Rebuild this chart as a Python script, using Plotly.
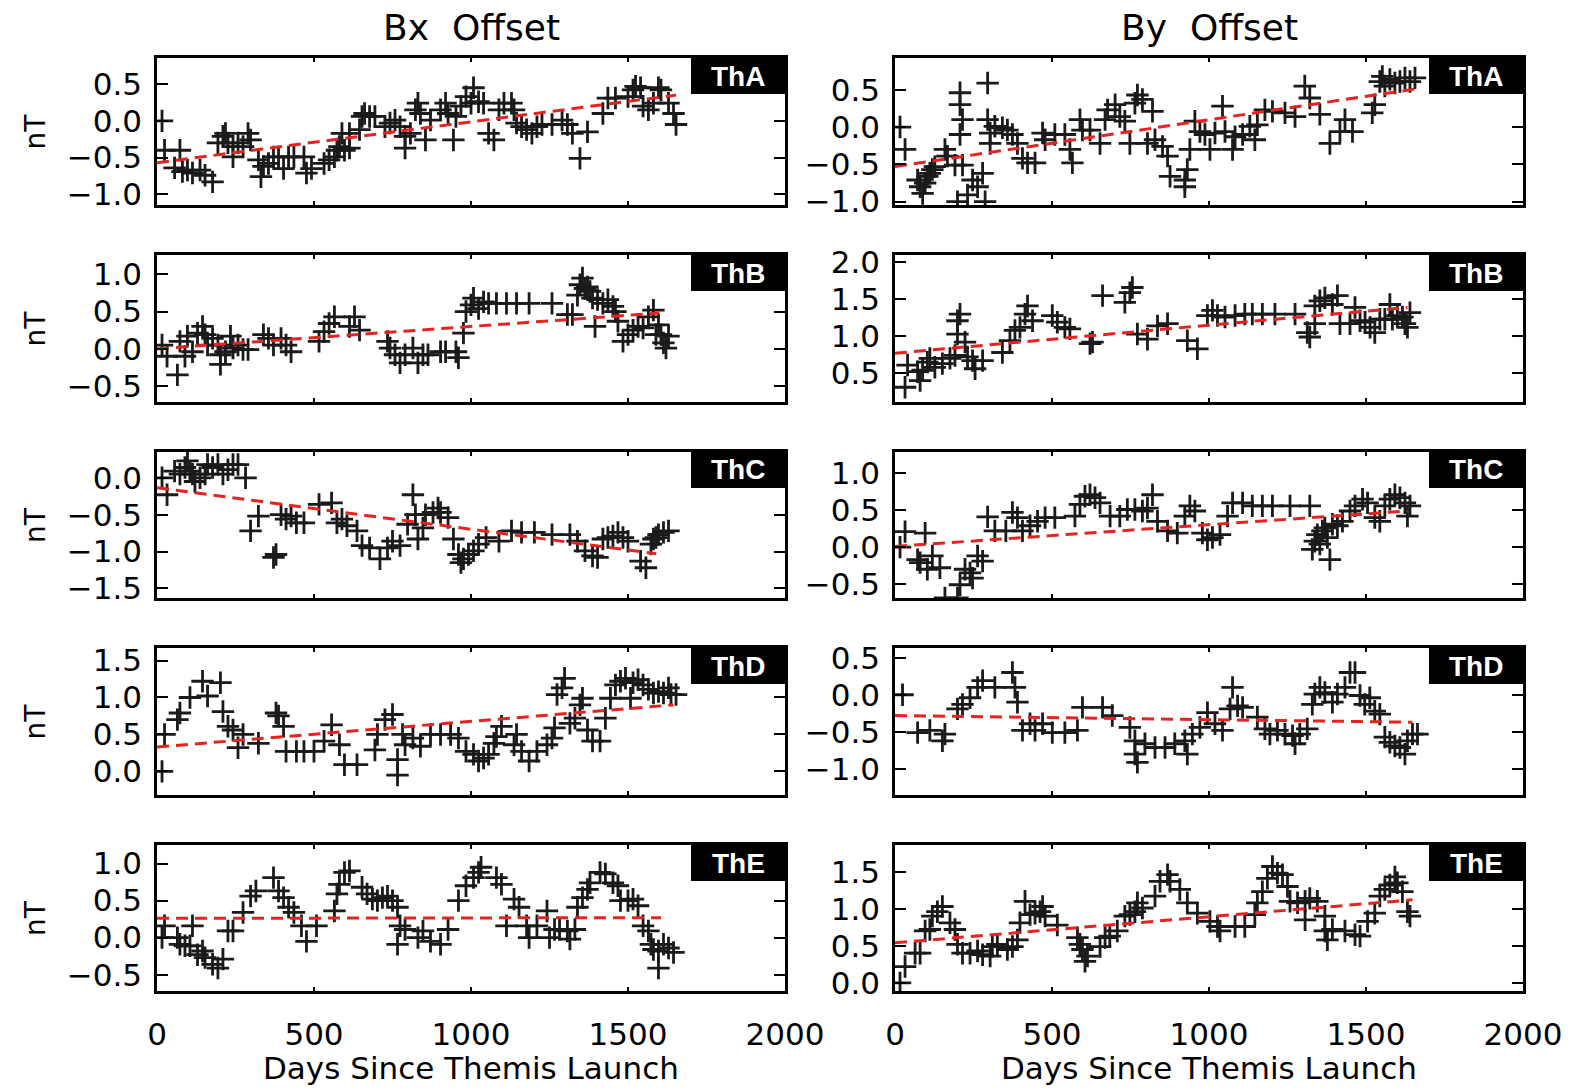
import plotly.graph_objects as go

# ---------------- data (days since launch, offset in nT) ----------------
days_bx_tha = [16,24,73,56,81,97,113,137,153,177,194,210,218,226,242,258,274,290,298,242,323,331,339,355,371,387,403,419,436,468,476,492,532,548,565,573,581,597,613,589,613,645,653,661,677,694,726,742,758,774,790,790,807,823,831,839,855,871,903,919,927,944,952,968,984,1000,1008,1024,1040,1056,1073,1089,1105,1129,1137,1145,1161,1177,1194,1210,1226,1258,1290,1307,1323,1347,1371,1420,1436,1460,1500,1516,1524,1540,1548,1565,1581,1597,1605,1629,1645,1653]
vals_bx_tha = [0.00,-0.40,-0.40,-0.64,-0.69,-0.67,-0.71,-0.67,-0.74,-0.83,-0.30,-0.21,-0.17,-0.30,-0.35,-0.30,-0.35,-0.17,-0.26,-0.49,-0.53,-0.76,-0.62,-0.58,-0.49,-0.49,-0.65,-0.49,-0.49,-0.49,-0.71,-0.65,-0.58,-0.53,-0.49,-0.40,-0.35,-0.40,-0.37,-0.17,-0.17,-0.12,0.06,0.10,0.06,0.06,-0.08,-0.03,0.01,-0.08,-0.21,-0.37,-0.17,0.15,0.24,0.10,-0.26,0.01,0.15,0.24,0.10,-0.26,0.06,0.20,0.33,0.24,0.45,0.26,0.24,-0.17,-0.26,0.15,0.24,0.24,0.15,-0.03,-0.08,-0.12,-0.17,-0.08,-0.05,-0.05,0.01,-0.05,-0.17,-0.51,-0.15,0.10,0.31,0.31,0.33,0.42,0.47,0.45,0.20,0.15,0.24,0.45,0.42,0.24,0.10,-0.05]

days_by_tha = [16,32,72,80,88,96,103,111,119,127,159,167,191,199,207,207,215,207,215,231,247,263,279,287,295,295,303,303,318,342,358,374,390,406,422,446,470,478,509,541,557,565,589,597,621,653,669,677,701,716,732,748,764,772,788,804,820,828,852,868,876,923,923,931,939,955,971,987,1003,1019,1043,1051,1075,1083,1107,1130,1146,1154,1178,1202,1242,1274,1305,1321,1353,1385,1417,1433,1457,1520,1528,1544,1552,1560,1576,1592,1608,1624,1640,1656]
vals_by_tha = [0.0,-0.30,-0.71,-0.80,-0.89,-0.75,-0.66,-0.62,-0.57,-0.53,-0.30,-0.39,-0.51,-1.0,0.46,0.30,0.10,-0.10,-0.51,-0.91,-0.71,-0.80,-0.62,-1.0,0.59,0.10,-0.08,-0.22,0.01,-0.01,-0.04,-0.10,-0.22,-0.42,-0.48,-0.48,-0.08,-0.17,-0.10,-0.10,-0.30,-0.48,0.10,-0.04,-0.04,-0.22,0.10,0.23,0.30,0.14,0.08,-0.22,0.32,0.43,0.37,-0.22,0.21,-0.17,-0.26,-0.39,-0.66,-0.71,-0.80,-0.57,-0.30,0.08,-0.06,-0.10,-0.30,-0.08,0.28,-0.06,-0.30,-0.13,-0.10,0.01,-0.17,0.03,0.23,0.21,0.19,0.14,0.55,0.39,0.17,-0.22,-0.06,0.10,-0.06,0.19,0.30,0.61,0.68,0.55,0.64,0.59,0.61,0.66,0.61,0.66]

days_bx_thb = [16,32,65,73,89,97,113,129,145,153,161,177,194,202,202,218,234,242,258,274,290,339,355,371,395,411,427,516,532,548,565,613,629,645,734,742,758,774,790,815,831,847,863,903,919,952,960,976,984,1000,1008,1024,1040,1056,1081,1113,1145,1185,1258,1307,1323,1339,1347,1355,1363,1371,1379,1387,1395,1403,1420,1436,1452,1460,1468,1484,1500,1516,1532,1548,1565,1581,1589,1597,1605,1613,1621,1629]
vals_bx_thb = [0.05,-0.10,-0.35,0.10,-0.10,0.17,-0.04,0.21,0.30,0.19,0.05,0.14,0.05,-0.08,-0.21,-0.04,0.17,0.01,0.05,-0.01,-0.01,0.19,0.14,0.05,0.14,0.05,-0.04,0.10,0.23,0.34,0.43,0.30,0.43,0.25,0.10,0.01,-0.08,-0.19,-0.08,0.01,-0.19,-0.08,-0.08,-0.04,-0.04,-0.04,-0.12,0.21,0.50,0.59,0.68,0.54,0.63,0.61,0.61,0.61,0.61,0.61,0.61,0.46,0.46,0.72,0.86,0.95,0.81,0.83,0.77,0.68,0.30,0.66,0.61,0.66,0.57,0.50,0.37,0.10,0.19,0.25,0.30,0.28,0.43,0.52,0.19,0.32,0.19,0.08,0.01,0.17]

days_by_thb = [32,40,72,80,88,103,111,127,151,175,191,199,207,199,223,231,247,255,279,342,366,382,398,414,422,438,501,517,541,557,621,629,661,732,748,756,772,804,836,868,931,963,995,1011,1027,1051,1083,1114,1138,1170,1210,1274,1313,1321,1337,1337,1353,1369,1393,1409,1417,1449,1465,1481,1497,1513,1528,1544,1560,1576,1584,1600,1616,1624,1632,1640]
vals_by_thb = [0.31,0.61,0.52,0.40,0.54,0.65,0.70,0.58,0.63,0.70,0.74,1.21,1.30,1.03,0.92,0.72,0.67,0.56,0.67,0.78,0.94,1.08,1.12,1.30,1.41,1.21,1.28,1.19,1.12,1.10,0.90,0.92,1.55,1.46,1.59,1.66,1.03,0.96,1.14,1.17,0.94,0.83,1.28,1.35,1.28,1.26,1.28,1.30,1.30,1.30,1.30,1.30,1.05,0.99,1.17,1.41,1.48,1.52,1.43,1.55,1.17,1.17,1.39,1.21,1.19,1.12,1.05,1.23,1.23,1.43,1.23,1.28,1.26,1.17,1.12,1.32]

days_bx_thc = [16,32,56,73,89,97,105,113,121,137,153,161,177,194,210,226,242,258,282,298,323,371,379,395,411,427,444,468,516,556,573,589,605,637,653,677,710,734,750,774,798,815,823,831,847,855,879,895,903,927,944,960,968,976,992,1008,1024,1048,1089,1129,1161,1202,1258,1315,1339,1363,1387,1403,1420,1436,1452,1468,1484,1500,1540,1557,1573,1581,1589,1597,1613,1629]
vals_bx_thc = [0.0,-0.23,0.09,0.05,0.14,0.23,0.09,0.05,-0.05,0.0,0.05,0.18,0.14,0.18,0.05,0.11,0.18,0.18,0.0,-0.72,-0.52,-1.08,-1.04,-0.50,-0.56,-0.52,-0.61,-0.61,-0.36,-0.34,-0.61,-0.56,-0.65,-0.72,-0.92,-0.95,-1.10,-0.95,-0.86,-0.92,-0.63,-0.23,-0.50,-0.83,-0.68,-0.50,-0.47,-0.41,-0.47,-0.54,-0.83,-1.04,-1.15,-1.10,-1.04,-0.99,-0.90,-0.81,-0.86,-0.72,-0.74,-0.74,-0.77,-0.77,-0.86,-0.99,-1.06,-1.08,-0.83,-0.81,-0.79,-0.74,-0.81,-0.86,-1.13,-1.22,-0.90,-0.83,-0.81,-0.77,-0.74,-0.72]

days_by_thc = [16,32,72,80,96,103,119,143,159,199,207,223,239,247,263,279,295,318,353,374,390,406,430,454,478,509,573,589,605,621,637,653,685,716,740,764,788,804,820,836,868,899,923,939,955,979,995,1011,1035,1059,1075,1107,1138,1170,1202,1258,1321,1329,1337,1345,1353,1361,1369,1377,1385,1393,1409,1425,1449,1465,1489,1505,1528,1544,1560,1576,1592,1608,1624,1632,1640]
vals_by_thc = [0.0,0.21,-0.17,-0.21,0.19,-0.30,-0.12,-0.28,-0.69,-0.69,-0.51,-0.30,-0.35,-0.42,-0.12,-0.19,0.41,0.22,0.22,0.47,0.40,0.22,0.29,0.35,0.40,0.40,0.42,0.58,0.69,0.71,0.67,0.60,0.42,0.42,0.51,0.51,0.49,0.53,0.71,0.35,0.22,0.19,0.42,0.56,0.49,0.19,0.10,0.13,0.17,0.42,0.60,0.60,0.56,0.56,0.56,0.56,0.56,-0.03,0.08,0.17,0.04,0.22,0.26,0.13,-0.17,0.31,0.29,0.35,0.49,0.56,0.65,0.60,0.40,0.35,0.56,0.65,0.71,0.67,0.60,0.42,0.56]

days_bx_thd = [16,24,65,73,105,145,161,202,210,226,242,258,274,323,379,387,403,411,444,468,500,532,556,581,597,637,694,702,726,750,766,766,782,790,815,839,871,903,935,960,984,1008,1024,1040,1056,1073,1081,1097,1137,1145,1161,1185,1210,1242,1258,1266,1274,1290,1298,1315,1331,1347,1355,1371,1387,1411,1428,1444,1460,1476,1492,1508,1516,1532,1548,1565,1581,1597,1613,1629,1637,1653]
vals_bx_thd = [0.0,0.50,0.70,0.79,1.00,1.22,1.02,1.20,0.81,0.61,0.56,0.32,0.50,0.38,0.79,0.75,0.61,0.27,0.27,0.27,0.27,0.41,0.63,0.36,0.09,0.09,0.29,0.50,0.70,0.77,0.16,-0.05,0.50,0.36,0.45,0.34,0.50,0.50,0.50,0.45,0.27,0.23,0.14,0.18,0.23,0.38,0.47,0.61,0.36,0.50,0.27,0.14,0.27,0.36,0.45,0.59,1.04,1.13,1.26,0.65,0.72,0.90,0.99,0.56,0.41,0.41,0.72,0.99,1.17,1.22,1.26,0.99,1.20,1.24,1.17,1.11,1.06,1.08,1.06,1.13,1.04,1.04]

days_by_thd = [24,72,111,151,159,199,215,239,263,279,318,374,382,390,406,430,446,470,501,541,581,597,661,692,748,764,764,772,796,828,860,891,923,931,947,971,995,1019,1043,1067,1075,1091,1107,1154,1178,1194,1218,1242,1266,1274,1289,1313,1329,1337,1353,1369,1393,1409,1433,1449,1465,1481,1496,1512,1528,1544,1560,1576,1592,1608,1624,1632,1648,1664]
vals_by_thd = [0.0,-0.51,-0.48,-0.62,-0.53,-0.19,-0.13,-0.04,0.10,0.19,0.10,0.30,0.10,-0.10,-0.48,-0.39,-0.48,-0.39,-0.51,-0.51,-0.48,-0.17,-0.17,-0.28,-0.44,-0.62,-0.80,-0.91,-0.66,-0.71,-0.71,-0.66,-0.62,-0.80,-0.53,-0.44,-0.24,-0.39,-0.48,-0.19,0.10,-0.15,-0.17,-0.30,-0.46,-0.53,-0.48,-0.53,-0.55,-0.66,-0.53,-0.46,-0.13,0.01,0.10,0.03,-0.10,0.01,0.10,0.30,0.30,-0.01,-0.13,-0.04,-0.22,-0.26,-0.57,-0.64,-0.69,-0.71,-0.80,-0.62,-0.53,-0.53]

days_bx_the = [16,24,65,73,89,105,113,129,145,153,177,194,210,226,242,274,298,315,371,387,403,419,436,460,476,508,565,573,581,597,613,653,669,686,702,718,734,750,766,774,766,790,831,847,871,903,927,960,984,1008,1024,1032,1081,1097,1113,1137,1153,1177,1185,1210,1242,1250,1266,1282,1307,1315,1331,1339,1355,1371,1379,1411,1428,1452,1468,1476,1500,1516,1532,1548,1565,1573,1581,1597,1597,1613,1629,1645]
vals_bx_the = [0.0,0.16,0.0,-0.09,-0.11,-0.11,0.16,-0.23,-0.18,-0.27,-0.36,-0.41,-0.29,0.09,0.09,0.34,0.56,0.63,0.81,0.63,0.54,0.41,0.34,0.16,-0.05,0.16,0.36,0.59,0.72,0.88,0.90,0.68,0.59,0.52,0.50,0.54,0.56,0.50,0.41,0.16,-0.09,0.11,0.0,0.09,-0.05,-0.09,0.11,0.50,0.70,0.81,0.88,0.95,0.81,0.72,0.16,0.52,0.41,0.16,0.0,0.16,0.36,0.0,0.11,0.11,0.09,-0.02,0.11,0.41,0.54,0.65,0.74,0.88,0.86,0.74,0.70,0.50,0.50,0.52,0.43,0.16,0.09,-0.09,-0.16,-0.18,-0.41,-0.09,-0.14,-0.20]

days_by_the = [16,32,64,80,96,111,119,135,151,175,191,199,215,239,263,279,303,310,326,358,374,390,398,414,430,446,462,470,478,517,581,589,597,605,613,653,669,684,708,732,748,764,772,788,828,844,868,876,907,931,963,1003,1027,1035,1083,1114,1146,1154,1170,1186,1202,1218,1234,1250,1258,1282,1306,1321,1345,1306,1369,1369,1377,1393,1433,1465,1481,1505,1528,1544,1560,1576,1592,1600,1616,1632,1640]
vals_by_the = [0.0,0.22,0.40,0.40,0.70,0.72,0.90,0.96,1.03,0.81,0.72,0.52,0.40,0.40,0.43,0.38,0.36,0.49,0.52,0.45,0.49,0.58,0.81,1.10,0.92,0.94,0.96,1.03,0.90,0.78,0.61,0.52,0.45,0.29,0.36,0.49,0.61,0.63,0.70,0.90,0.92,0.96,1.08,1.01,1.17,1.37,1.46,1.37,1.26,1.08,0.94,0.83,0.76,0.70,0.76,0.76,0.92,1.08,1.23,1.41,1.57,1.48,1.46,1.30,1.10,1.08,1.10,1.14,1.10,0.85,0.90,0.70,0.58,0.72,0.70,0.65,0.63,0.83,0.94,1.17,1.26,1.32,1.43,1.35,1.23,0.96,0.90]

# linear trend endpoints per panel (Bx column then By column, ThA..ThE)
probes = ["ThA", "ThB", "ThC", "ThD", "ThE"]
column_titles = ["Bx  Offset", "By  Offset"]
trend_bx_start = [-0.57, 0.0, -0.135, 0.33, 0.26]
trend_bx_end = [0.35, 0.48, -1.03, 0.90, 0.27]
trend_bx_end_day = [1653, 1600, 1590, 1645, 1605]
trend_by_start = [-0.53, 0.77, 0.01, -0.28, 0.54]
trend_by_end = [0.51, 1.39, 0.49, -0.37, 1.12]
trend_by_end_day = [1656, 1632, 1632, 1648, 1648]

yrange_bx = [[-1.145, 0.855], [-0.715, 1.26], [-1.63, 0.35], [-0.32, 1.67], [-0.72, 1.25]]
yrange_by = [[-1.045, 0.926], [0.11, 2.10], [-0.69, 1.29], [-1.35, 0.63], [-0.11, 1.86]]

x_ticks = [0, 500, 1000, 1500, 2000]
x_range = [0, 2000]

bx_days = [days_bx_tha, days_bx_thb, days_bx_thc, days_bx_thd, days_bx_the]
bx_vals = [vals_bx_tha, vals_bx_thb, vals_bx_thc, vals_bx_thd, vals_bx_the]
by_days = [days_by_tha, days_by_thb, days_by_thc, days_by_thd, days_by_the]
by_vals = [vals_by_tha, vals_by_thb, vals_by_thc, vals_by_thd, vals_by_the]

# ---------------- layout geometry ----------------
W, H = 1575, 1092
col_px = [(157, 785), (895, 1523)]
row_px = [(58, 205), (255, 402), (452, 598), (648, 795), (845, 991)]

FONT = "DejaVu Sans"
fig = go.Figure()
layout = dict(width=W, height=H, autosize=False,
              margin=dict(l=0, r=0, t=0, b=0, pad=0, autoexpand=False),
              paper_bgcolor="white", plot_bgcolor="white", showlegend=False)
annotations = []
shapes = []

for r in range(5):
    for c in range(2):
        i = r * 2 + c + 1
        xa = "x" if i == 1 else f"x{i}"
        ya = "y" if i == 1 else f"y{i}"
        if c == 0:
            d, v = bx_days[r], bx_vals[r]
            t0, t1, td = trend_bx_start[r], trend_bx_end[r], trend_bx_end_day[r]
            yr = yrange_bx[r]
        else:
            d, v = by_days[r], by_vals[r]
            t0, t1, td = trend_by_start[r], trend_by_end[r], trend_by_end_day[r]
            yr = yrange_by[r]
        fig.add_trace(go.Scatter(x=d, y=v, mode="markers", xaxis=xa, yaxis=ya,
                                 marker=dict(symbol="cross-thin", size=16,
                                             line=dict(width=2.8, color="#1a1a1a"))))
        fig.add_trace(go.Scatter(x=[0, td], y=[t0, t1], mode="lines", xaxis=xa, yaxis=ya,
                                 line=dict(color="#e8231f", width=3, dash="12px,7px")))
        x0p, x1p = col_px[c]
        y0p, y1p = row_px[r]
        xdom = [x0p / W, x1p / W]
        ydom = [1 - y1p / H, 1 - y0p / H]
        key_x = "xaxis" if i == 1 else f"xaxis{i}"
        key_y = "yaxis" if i == 1 else f"yaxis{i}"
        layout[key_x] = dict(domain=xdom, anchor=ya, range=x_range, tickvals=x_ticks,
                             showticklabels=(r == 4), ticks="inside", ticklen=4, tickwidth=2,
                             tickcolor="black", showline=True, linecolor="black", linewidth=2.5,
                             mirror="ticks", showgrid=False, zeroline=False, automargin=False,
                             tickfont=dict(family=FONT, size=31, color="black"),
                             ticklabelstandoff=14)
        layout[key_y] = dict(domain=ydom, anchor=xa, range=yr, dtick=0.5, tick0=0,
                             tickformat=".1f", ticks="inside", ticklen=11, tickwidth=2,
                             tickcolor="black", showline=True, linecolor="black", linewidth=2.5,
                             mirror="ticks", showgrid=False, zeroline=False, automargin=False,
                             tickfont=dict(family=FONT, size=31, color="black"),
                             ticklabelstandoff=6)
        # probe label box
        bw = 94 / (x1p - x0p)
        bh = 36 / (y1p - y0p)
        shapes.append(dict(type="rect", xref=f"{xa} domain", yref=f"{ya} domain",
                           x0=1 - bw, x1=1, y0=1 - bh, y1=1, fillcolor="black",
                           line=dict(width=0), layer="above"))
        annotations.append(dict(text="<b>" + probes[r] + "</b>", xref=f"{xa} domain",
                                yref=f"{ya} domain", x=1 - bw / 2, y=1 - bh / 2,
                                showarrow=False, xanchor="center", yanchor="middle",
                                font=dict(family="Liberation Sans Narrow, Liberation Sans",
                                          size=28, color="white")))
        if c == 0:
            annotations.append(dict(text="nT", xref="paper", yref="paper",
                                    x=35 / W, y=1 - (y0p + y1p) / 2 / H, textangle=-90,
                                    showarrow=False, xanchor="center", yanchor="middle",
                                    font=dict(family=FONT, size=28, color="black")))

for c in range(2):
    xc = (col_px[c][0] + col_px[c][1]) / 2 / W
    annotations.append(dict(text=column_titles[c], xref="paper", yref="paper",
                            x=xc, y=1 - 27 / H, showarrow=False, xanchor="center",
                            yanchor="middle",
                            font=dict(family=FONT, size=36, color="black")))
    annotations.append(dict(text="Days Since Themis Launch", xref="paper", yref="paper",
                            x=xc, y=1 - 1068 / H, showarrow=False, xanchor="center",
                            yanchor="middle",
                            font=dict(family=FONT, size=31, color="black")))

layout["annotations"] = annotations
layout["shapes"] = shapes
fig.update_layout(**layout)

fix_page = (
    "document.documentElement.style.margin='0';"
    "document.body.style.margin='0';"
    "document.body.style.padding='0';"
    "document.body.style.overflow='hidden';"
)
fig.write_html("out.html", include_plotlyjs=True, full_html=True,
               config={"displayModeBar": False}, post_script=fix_page)
